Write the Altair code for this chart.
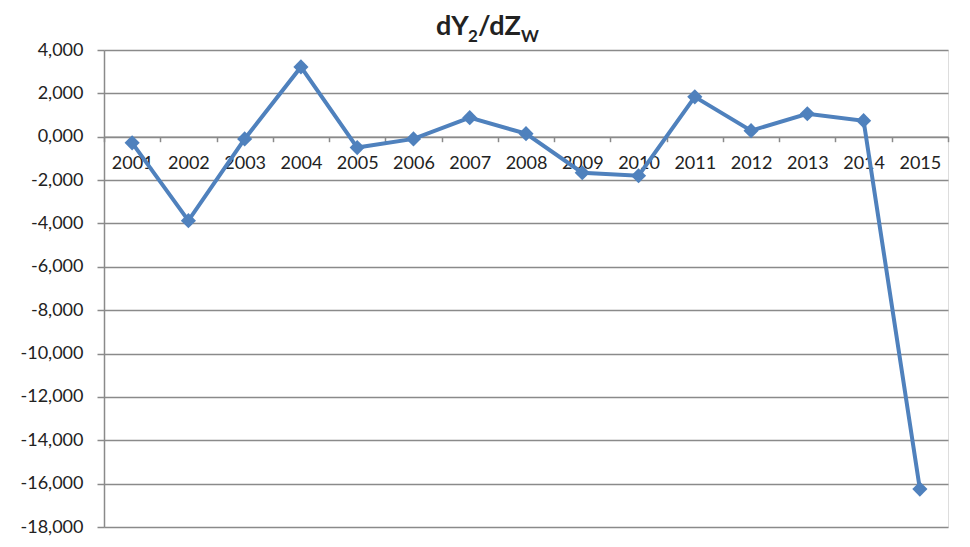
import altair as alt
import pandas as pd

years = ["2001", "2002", "2003", "2004", "2005", "2006", "2007", "2008",
         "2009", "2010", "2011", "2012", "2013", "2014", "2015"]
values = [-0.28, -3.87, -0.10, 3.22, -0.50, -0.10, 0.88, 0.14,
          -1.66, -1.80, 1.84, 0.28, 1.06, 0.74, -16.25]
y_ticks = [-18, -16, -14, -12, -10, -8, -6, -4, -2, 0, 2, 4]
title_parts = ["dY", "2", "/dZ", "W"]

df = pd.DataFrame({"year": years, "value": values})

FONT = "Lato"
GRAY = "#8a8a8a"
BLUE = "#4F81BD"

x_enc = alt.X(
    "year:O",
    scale=alt.Scale(type="band", paddingInner=0, paddingOuter=0),
    axis=alt.Axis(
        title=None, labelAngle=0, labelFont=FONT, labelFontSize=18,
        labelColor="#222222", domainColor=GRAY, domainWidth=1.5,
        tickColor=GRAY, tickWidth=1.5, tickSize=5, tickBand="extent",
        labelPadding=13, grid=False, offset=-390.3,
    ),
)
y_enc = alt.Y(
    "value:Q",
    scale=alt.Scale(domain=[-18, 4], nice=False, zero=False),
    axis=alt.Axis(
        title=None, values=y_ticks,
        labelExpr="replace(replace(format(datum.value, '.3f'), '.', ','), '\u2212', '-')",
        labelFont=FONT, labelFontSize=18, labelColor="#222222",
        domainColor=GRAY, domainWidth=1.5, tickColor=GRAY, tickWidth=1.5,
        tickSize=7, labelPadding=14, grid=True, gridColor=GRAY, gridWidth=1.4,
    ),
)

base = alt.Chart(df)
line = base.mark_line(color=BLUE, strokeWidth=4).encode(x=x_enc, y=y_enc)
points = base.mark_point(shape="diamond", filled=True, color=BLUE, size=230, opacity=1).encode(
    x="year:O", y="value:Q"
)

def title_piece(txt, xpos, ypos, size):
    return alt.Chart(pd.DataFrame({"t": [txt]})).mark_text(
        font=FONT, fontWeight="bold", fontSize=size, color="#222222",
        align="left", baseline="alphabetic",
    ).encode(text="t:N", x=alt.value(xpos), y=alt.value(ypos))

t1 = title_piece(title_parts[0], 332, -15, 27)
t2 = title_piece(title_parts[1], 364, -8, 17)
t3 = title_piece(title_parts[2], 374, -15, 27)
t4 = title_piece(title_parts[3], 417, -8, 17)

chart = alt.layer(line, points, t1, t2, t3, t4).properties(
    width=844, height=477,
    autosize=alt.AutoSizeParams(type="none"),
    padding={"left": 96, "top": 42, "right": 10, "bottom": 10},
).configure_view(stroke=None).configure(background="white")

chart.save("out.html", embed_options={"renderer": "svg", "actions": False})
